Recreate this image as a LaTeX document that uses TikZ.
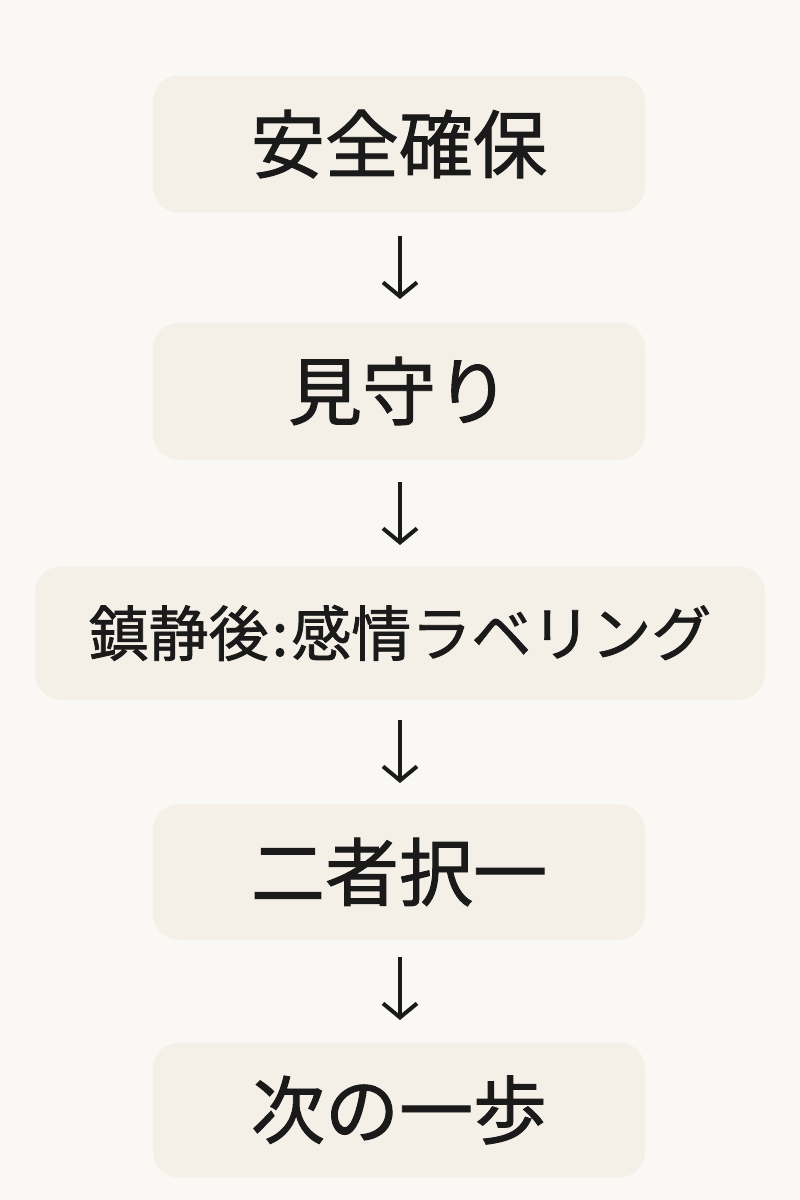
\documentclass[tikz,border=0pt]{standalone}
\usepackage{fontspec}
\setmainfont{Noto Sans CJK JP}[FakeBold=1.3]
\usetikzlibrary{arrows.meta}
\definecolor{bg}{HTML}{FAF8F4}
\definecolor{boxc}{HTML}{F4EFE7}
\definecolor{ink}{HTML}{1A1A1A}
\begin{document}
\begin{tikzpicture}[x=1pt,y=-1pt,
  box/.style={fill=boxc,draw=none,rounded corners=26pt,minimum height=137pt,text=ink,font=\fontsize{74}{78}\selectfont},
  arr/.style={draw=ink,line width=4pt,-{Straight Barb[length=14pt,width=34pt,line width=4pt]}}]
\fill[bg] (0,0) rectangle (800,1200);
\useasboundingbox (0,0) rectangle (800,1200);
\node[box,minimum width=492pt] (a) at (399,144) {安全確保};
\node[box,minimum width=492pt] (b) at (399,391) {見守り};
\node[box,minimum width=730pt,minimum height=133pt,font=\fontsize{60}{64}\selectfont] (c) at (400,633) {鎮静後\kern3pt:\kern3pt感情ラベリング};
\node[box,minimum width=492pt,minimum height=135pt] (d) at (399,872) {二者択一};
\node[box,minimum width=492pt,minimum height=135pt] (e) at (399,1110) {次の一歩};
\coordinate (a1) at (400,236); \coordinate (a2) at (400,299);
\coordinate (b1) at (400,482); \coordinate (b2) at (400,545);
\coordinate (c1) at (400,720); \coordinate (c2) at (400,783);
\coordinate (d1) at (400,957); \coordinate (d2) at (400,1020);
\draw[arr] (a1) -- (a2);
\draw[arr] (b1) -- (b2);
\draw[arr] (c1) -- (c2);
\draw[arr] (d1) -- (d2);
\end{tikzpicture}
\end{document}
